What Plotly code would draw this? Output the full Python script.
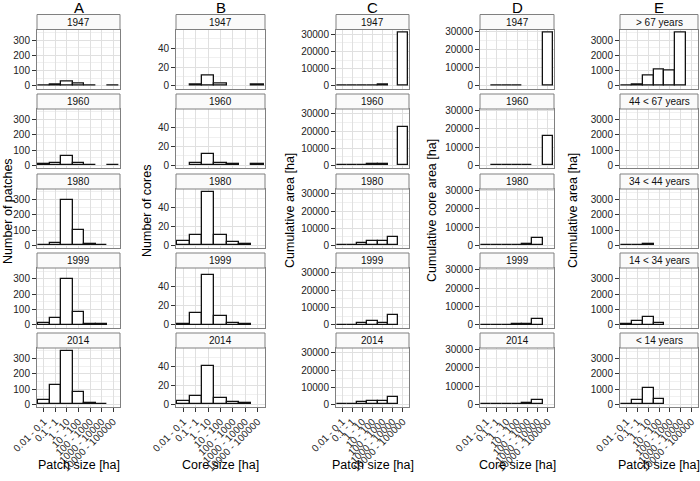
import plotly.graph_objects as go
from plotly.subplots import make_subplots

# Daten
size_classes = ["0.01 - 0.1", "0.1 - 1", "1 - 10", "10 - 100",
                "100 - 1000", "1000 - 10000", "10000 - 100000"]
years = ["1947", "1960", "1980", "1999", "2014"]
age_classes = ["> 67 years", "44 < 67 years", "34 < 44 years",
               "14 < 34 years", "< 14 years"]

# A: number of patches
patch_count = [
    [1, 8, 28, 12, 2, None, 1],
    [7, 12, 58, 18, 3, None, 1],
    [5, 17, 295, 100, 8, 3, None],
    [10, 45, 298, 85, 5, 2, None],
    [28, 125, 352, 80, 7, 2, None],
]
# B: number of cores
core_count = [
    [None, 1, 11, 2, None, None, 1],
    [None, 3, 12, 2, 1, None, 1],
    [5, 11, 57, 11, 4, 1, None],
    [1, 12, 52, 9, 2, 1, None],
    [4, 9, 41, 7, 3, 1, None],
]
# C: cumulative area [ha]
patch_area = [
    [0.1, 5, 100, 300, 500, None, 31300],
    [0.3, 5, 200, 500, 700, None, 22600],
    [0.3, 8, 1100, 2600, 2300, 4850, None],
    [0.5, 20, 1300, 2300, 1200, 5500, None],
    [1.5, 50, 1200, 1800, 1800, 4300, None],
]
# D: cumulative core area [ha]
core_area = [
    [None, 0.5, 50, 100, None, None, 29400],
    [None, 1, 60, 100, 200, None, 15800],
    [1, 5, 150, 400, 700, 4000, None],
    [0.2, 5, 150, 300, 500, 3100, None],
    [1, 4, 120, 250, 750, 2250, None],
]
# E: cumulative area by age class [ha]
age_area = [
    [10, 90, 690, 1060, 990, 3530, None],
    [None, None, None, None, None, None, None],
    [10, 50, 60, None, None, None, None],
    [20, 220, 480, 130, None, None, None],
    [30, 310, 1060, 330, None, None, None],
]

W, H = 700, 481

# Layout in Pixeln
col_px = [(37, 120), (176, 265), (336, 409), (480, 554), (620, 698)]
row_px = [(29.5, 88.5), (109, 168), (189, 248), (268, 327.5), (348, 407)]
strip_h = 15

columns = [
    ("A", patch_count, years, "Number of patches", "Patch size [ha]", 100, 8),
    ("B", core_count, years, "Number of cores", "Core size [ha]", 20, 147),
    ("C", patch_area, years, "Cumulative area [ha]", "Patch size [ha]", 10000, 290),
    ("D", core_area, years, "Cumulative core area [ha]", "Core size [ha]", 10000, 432),
    ("E", age_area, age_classes, "Cumulative area [ha]", "Patch size [ha]", 1000, 573),
]

font_fam = "Liberation Sans, Arial, sans-serif"


def px_x(v):
    return v / W


def px_y(v):
    return 1 - v / H


fig = make_subplots(rows=5, cols=5)
shapes = []
annotations = []

for c, (letter, data, strips, ytitle, xtitle, dtick, ytitle_x) in enumerate(columns):
    x0, x1 = col_px[c]
    ymax = max(v for row in data for v in row if v is not None)
    yrange = [-0.05 * ymax, 1.05 * ymax]

    for r in range(5):
        fig.add_trace(go.Bar(
            x=size_classes, y=data[r], width=1,
            marker=dict(color="white", line=dict(color="#111", width=1.3)),
            showlegend=False, hoverinfo="x+y"),
            row=r + 1, col=c + 1)

        y0, y1 = row_px[r]
        idx = r * 5 + c + 1
        xa = "xaxis" if idx == 1 else f"xaxis{idx}"
        ya = "yaxis" if idx == 1 else f"yaxis{idx}"
        bottom = r == 4
        fig.layout[xa].update(
            domain=[px_x(x0), px_x(x1)], automargin=False,
            type="category", categoryorder="array", categoryarray=size_classes,
            tickmode="array", tickvals=size_classes, ticktext=size_classes,
            range=[-0.6, 6.6],
            showgrid=True, gridcolor="#e0e0e0", gridwidth=1,
            showline=True, mirror=True, linecolor="#808080", linewidth=1,
            showticklabels=bottom, ticks="outside" if bottom else "",
            ticklen=4, tickcolor="#333", tickangle=-45,
            tickfont=dict(size=10, color="#222", family=font_fam),
        )
        fig.layout[ya].update(
            domain=[px_y(y1), px_y(y0)], automargin=False,
            range=yrange, dtick=dtick, tick0=0, tickformat="d",
            showgrid=True, gridcolor="#e0e0e0", gridwidth=1, zeroline=False,
            minor=dict(dtick=dtick / 2, showgrid=True, gridcolor="#f0f0f0"),
            showline=True, mirror=True, linecolor="#808080", linewidth=1,
            ticks="outside", ticklen=4, tickcolor="#333",
            tickfont=dict(size=10, color="#222", family=font_fam),
        )

        # Streifen mit Jahr / Altersklasse
        shapes.append(dict(type="rect", xref="paper", yref="paper",
                           x0=px_x(x0), x1=px_x(x1),
                           y0=px_y(y0), y1=px_y(y0 - strip_h),
                           fillcolor="#fafafa", line=dict(color="#808080", width=1)))
        annotations.append(dict(text=strips[r], xref="paper", yref="paper",
                                x=px_x((x0 + x1) / 2), y=px_y(y0 - strip_h / 2),
                                showarrow=False, xanchor="center", yanchor="middle",
                                font=dict(size=10, color="#111", family=font_fam)))

    xc = (x0 + x1) / 2
    annotations.append(dict(text=letter, xref="paper", yref="paper",
                            x=px_x(xc), y=px_y(7), showarrow=False,
                            xanchor="center", yanchor="middle",
                            font=dict(size=15, color="black", family=font_fam)))
    annotations.append(dict(text=xtitle, xref="paper", yref="paper",
                            x=px_x(xc), y=px_y(465), showarrow=False,
                            xanchor="center", yanchor="middle",
                            font=dict(size=12.5, color="black", family=font_fam)))
    annotations.append(dict(text=ytitle, xref="paper", yref="paper",
                            x=px_x(ytitle_x), y=px_y(211), showarrow=False,
                            textangle=-90, xanchor="center", yanchor="middle",
                            font=dict(size=12.5, color="black", family=font_fam)))

fig.update_layout(
    width=W, height=H,
    margin=dict(l=0, r=0, t=0, b=0),
    plot_bgcolor="white", paper_bgcolor="white",
    bargap=0, shapes=shapes, annotations=annotations,
    font=dict(family=font_fam),
)

# Seitenrand des Browsers entfernen, damit die Grafik bei (0, 0) beginnt
fig.write_html("out.html", config={"displayModeBar": False},
               post_script="document.body.style.margin='0px';")
